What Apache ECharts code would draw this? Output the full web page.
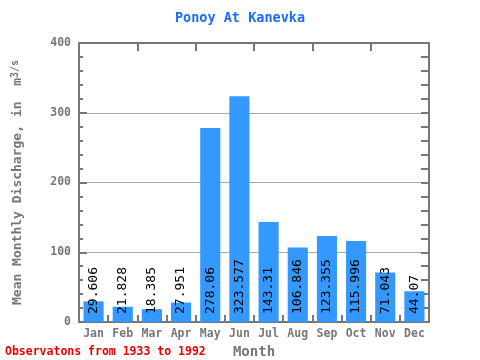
<!DOCTYPE html>
<html><head><meta charset="utf-8">
<script src="https://cdn.jsdelivr.net/npm/echarts@6/dist/echarts.min.js"></script>
<style>html,body{margin:0;padding:0;background:#fff}#c{width:480px;height:360px}</style>
</head><body><div id="c"></div>
<script>
var months = ['Jan','Feb','Mar','Apr','May','Jun','Jul','Aug','Sep','Oct','Nov','Dec'];
var discharge = [29.606, 21.828, 18.385, 27.951, 278.06, 323.577, 143.31, 106.846, 123.355, 115.996, 71.043, 44.07];
var yTicks = [0, 100, 200, 300, 400];

var font = '"DejaVu Sans Mono", monospace';
var gray = '#777777';
var chart = echarts.init(document.getElementById('c'));
chart.setOption({
  animation: false,
  title: {
    text: 'Ponoy At Kanevka', left: 'center', top: 6,
    textStyle: {fontFamily: font, fontSize: 13.5, fontWeight: 'bold', color: '#1a6cff'}
  },
  graphic: [{
    type: 'text', left: 5, top: 346,
    style: {text: 'Observatons from 1933 to 1992', fill: '#ee0000', font: 'bold 11.5px ' + font}
  }],
  grid: {left: 79, right: 51, top: 43, bottom: 38, outerBoundsMode: 'none', containLabel: false},
  xAxis: [{
    type: 'category', data: months, position: 'bottom',
    name: 'Month', nameLocation: 'middle', nameGap: 11,
    nameTextStyle: {fontFamily: font, fontSize: 14, fontWeight: 'bold', color: gray},
    axisLine: {onZero: false, lineStyle: {color: gray, width: 2}},
    axisTick: {show: true, inside: true, length: 7, lineStyle: {color: gray, width: 2}},
    axisLabel: {fontFamily: font, fontSize: 11.5, fontWeight: 'bold', color: gray, margin: 6}
  }, {
    type: 'category', data: months, position: 'top',
    axisLine: {onZero: false, lineStyle: {color: gray, width: 2}},
    axisTick: {show: true, inside: true, length: 8, lineStyle: {color: gray, width: 2}},
    axisLabel: {show: false}
  }],
  yAxis: [{
    type: 'value', min: 0, max: 400, interval: 100, position: 'left',
    name: 'Mean Monthly Discharge, in  m{sup|3/s}', nameLocation: 'middle', nameGap: 53,
    nameTextStyle: {fontFamily: font, fontSize: 13, fontWeight: 'bold', color: gray,
      rich: {sup: {fontFamily: font, fontSize: 10, fontWeight: 'bold', color: gray, verticalAlign: 'top', padding: [0,0,6,0]}}},
    axisLine: {show: true, onZero: false, lineStyle: {color: gray, width: 2}},
    axisTick: {show: true, inside: true, length: 8, lineStyle: {color: gray, width: 2}},
    minorTick: {show: true, splitNumber: 5, length: 4, lineStyle: {color: gray, width: 2}},
    splitLine: {show: true, lineStyle: {color: '#aaaaaa', width: 1}},
    axisLabel: {fontFamily: font, fontSize: 11.5, fontWeight: 'bold', color: gray, margin: 8,
      customValues: yTicks}
  }, {
    type: 'value', min: 0, max: 400, interval: 20, position: 'right',
    axisLine: {show: true, onZero: false, lineStyle: {color: gray, width: 2}},
    axisTick: {show: true, inside: true, length: 8, lineStyle: {color: gray, width: 2}},
    splitLine: {show: false},
    axisLabel: {show: false}
  }],
  series: [{
    type: 'bar', data: discharge, xAxisIndex: 0, yAxisIndex: 0,
    barCategoryGap: '31%',
    itemStyle: {color: '#3399ff'},
    label: {
      show: true, position: 'insideBottom', rotate: 90, distance: 8,
      align: 'left', verticalAlign: 'middle',
      fontFamily: font, fontSize: 13, color: '#000000',
      formatter: function (p) { return String(p.value); }
    }
  }]
});
</script></body></html>
